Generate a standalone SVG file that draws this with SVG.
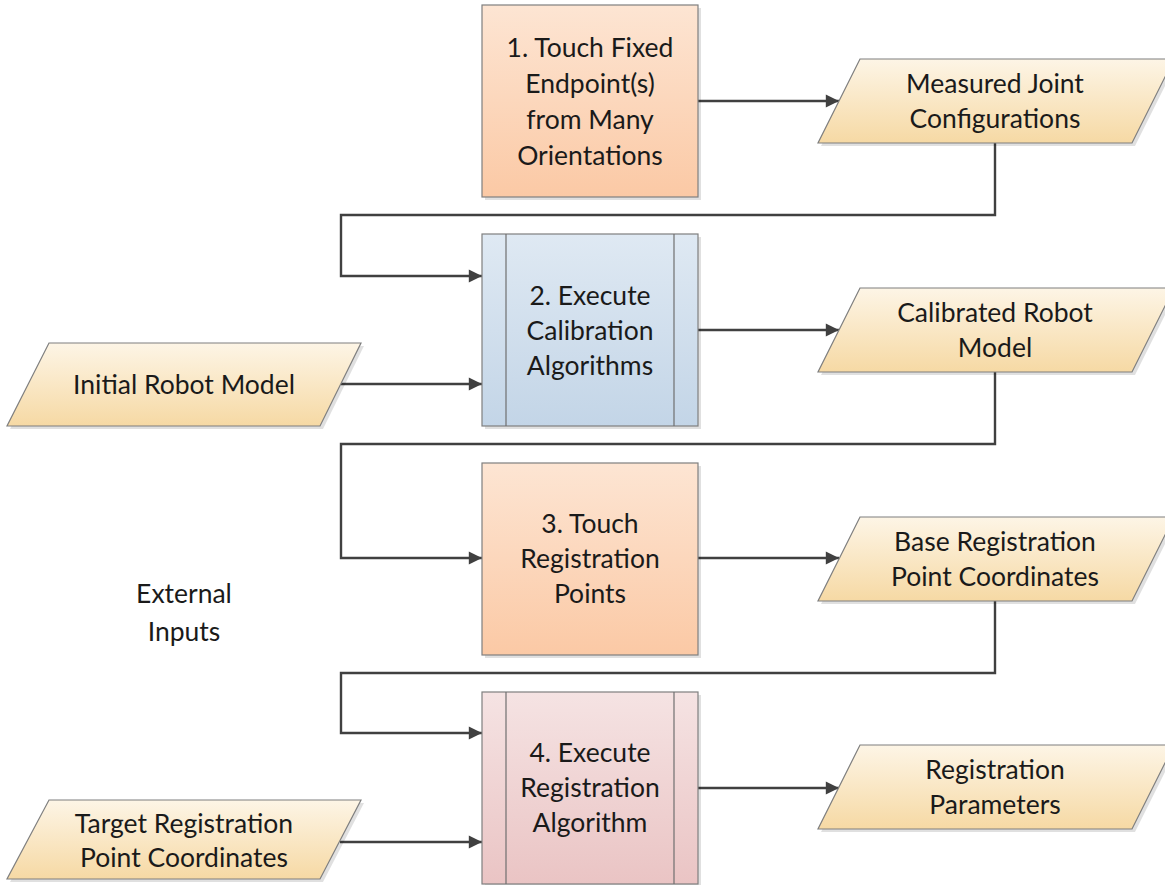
<svg xmlns="http://www.w3.org/2000/svg" width="1165" height="885" viewBox="0 0 1165 885">
<defs>
<linearGradient id="gOrange" x1="0" y1="0" x2="0" y2="1"><stop offset="0" stop-color="#fde5d3"/><stop offset="1" stop-color="#fbc9a5"/></linearGradient>
<linearGradient id="gBlue" x1="0" y1="0" x2="0" y2="1"><stop offset="0" stop-color="#dfe9f3"/><stop offset="1" stop-color="#c3d5e7"/></linearGradient>
<linearGradient id="gPink" x1="0" y1="0" x2="0" y2="1"><stop offset="0" stop-color="#f5e3e3"/><stop offset="1" stop-color="#eac4c4"/></linearGradient>
<linearGradient id="gSand" x1="0" y1="0" x2="0" y2="1"><stop offset="0" stop-color="#fdf5e6"/><stop offset="1" stop-color="#f6d9a4"/></linearGradient>
<marker id="arr" viewBox="0 0 10 10" refX="10" refY="5" markerWidth="7" markerHeight="5.5" markerUnits="strokeWidth" orient="auto">
<path d="M0,0 L10,5 L0,10 Z" fill="#404040"/>
</marker>
</defs>
<style>
.box{stroke:#7f7f7f;stroke-width:1.2}
.shadow{fill:#000;opacity:0.12}
.div{stroke:#6f6f6f;stroke-width:1.2;fill:none}
.conn{fill:none;stroke:#404040;stroke-width:2.4;marker-end:url(#arr)}
text{font-family:"Lato","Liberation Sans",sans-serif;font-size:26.5px;fill:#1a1a1a;text-anchor:middle}
</style>
<rect width="1165" height="885" fill="#fff"/>

<g id="connectors">
<path class="conn" d="M698,101 H839"/>
<path class="conn" d="M995,143 V215 H341 V276 H482"/>
<path class="conn" d="M341,384 H482"/>
<path class="conn" d="M698,330 H839"/>
<path class="conn" d="M995,372 V444 H341 V558 H482"/>
<path class="conn" d="M698,558 H839"/>
<path class="conn" d="M995,601 V673 H341 V733 H482"/>
<path class="conn" d="M340,842 H482"/>
<path class="conn" d="M698,788 H839"/>
</g>

<g id="n1">
<rect class="shadow" x="485" y="8" width="216" height="192"/>
<rect class="box" x="482" y="5" width="216" height="192" fill="url(#gOrange)"/>
<text x="590" y="57">1. Touch Fixed</text>
<text x="590" y="93">Endpoint(s)</text>
<text x="590" y="129">from Many</text>
<text x="590" y="165">Orientations</text>
</g>

<g id="n_measured">
<polygon class="shadow" points="863,62 1177,62 1135,146 821,146"/>
<polygon class="box" points="860,59 1174,59 1132,143 818,143" fill="url(#gSand)"/>
<text x="995" y="93">Measured Joint</text>
<text x="995" y="128">Configurations</text>
</g>

<g id="n2">
<rect class="shadow" x="485" y="237" width="216" height="192"/>
<rect class="box" x="482" y="234" width="216" height="192" fill="url(#gBlue)"/>
<line class="div" x1="506" y1="234" x2="506" y2="426"/>
<line class="div" x1="674" y1="234" x2="674" y2="426"/>
<text x="590" y="305">2. Execute</text>
<text x="590" y="340">Calibration</text>
<text x="590" y="375">Algorithms</text>
</g>

<g id="n_initial">
<polygon class="shadow" points="52,346 364,346 323,429 10,429"/>
<polygon class="box" points="49,343 361,343 320,426 7,426" fill="url(#gSand)"/>
<text x="184" y="394">Initial Robot Model</text>
</g>

<g id="n_calibrated">
<polygon class="shadow" points="863,291 1177,291 1135,375 821,375"/>
<polygon class="box" points="860,288 1174,288 1132,372 818,372" fill="url(#gSand)"/>
<text x="995" y="322">Calibrated Robot</text>
<text x="995" y="357">Model</text>
</g>

<g id="n3">
<rect class="shadow" x="485" y="466" width="216" height="192"/>
<rect class="box" x="482" y="463" width="216" height="192" fill="url(#gOrange)"/>
<text x="590" y="533">3. Touch</text>
<text x="590" y="568">Registration</text>
<text x="590" y="603">Points</text>
</g>

<g id="n_base">
<polygon class="shadow" points="863,520 1177,520 1135,604 821,604"/>
<polygon class="box" points="860,517 1174,517 1132,601 818,601" fill="url(#gSand)"/>
<text x="995" y="551">Base Registration</text>
<text x="995" y="586">Point Coordinates</text>
</g>

<g id="n_external">
<text x="184" y="603">External</text>
<text x="184" y="641">Inputs</text>
</g>

<g id="n4">
<rect class="shadow" x="485" y="695" width="216" height="192"/>
<rect class="box" x="482" y="692" width="216" height="192" fill="url(#gPink)"/>
<line class="div" x1="506" y1="692" x2="506" y2="884"/>
<line class="div" x1="674" y1="692" x2="674" y2="884"/>
<text x="590" y="762">4. Execute</text>
<text x="590" y="797">Registration</text>
<text x="590" y="832">Algorithm</text>
</g>

<g id="n_target">
<polygon class="shadow" points="52,803 364,803 323,882 10,882"/>
<polygon class="box" points="49,800 361,800 320,879 7,879" fill="url(#gSand)"/>
<text x="184" y="833">Target Registration</text>
<text x="184" y="867">Point Coordinates</text>
</g>

<g id="n_params">
<polygon class="shadow" points="863,748 1177,748 1135,832 821,832"/>
<polygon class="box" points="860,745 1174,745 1132,829 818,829" fill="url(#gSand)"/>
<text x="995" y="779">Registration</text>
<text x="995" y="814">Parameters</text>
</g>
</svg>
